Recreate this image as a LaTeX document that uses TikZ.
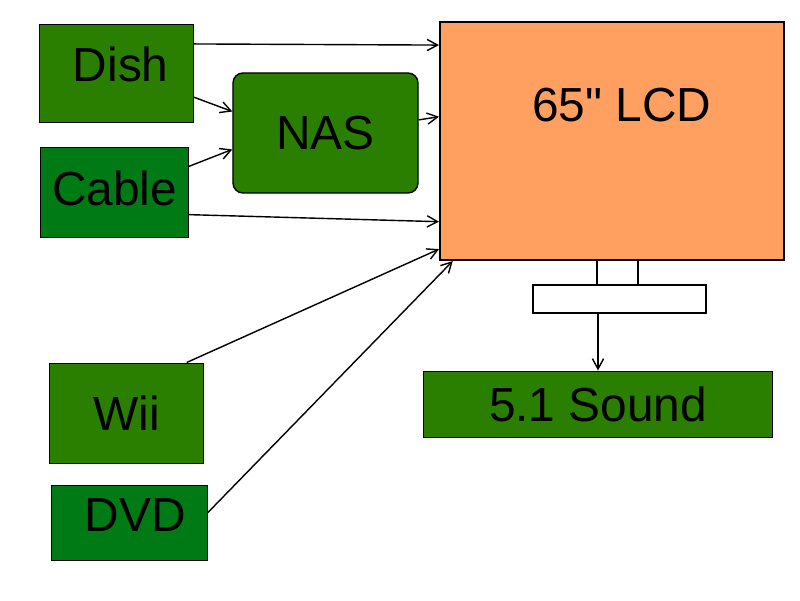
\documentclass[tikz,border=0pt]{standalone}
\usepackage{fontspec}
\setmainfont{Liberation Sans}[Ligatures=TeXOff]
\usepackage{xcolor}
\usepackage{tikz}
\usetikzlibrary{arrows.meta, positioning}
\definecolor{box-green}{RGB}{42,127,0}
\definecolor{box-green2}{RGB}{0,122,20}
\definecolor{tv-orange}{RGB}{255,160,96}
\tikzstyle{source} = [rectangle, draw=black, line width=0.7pt, fill=box-green,
    inner sep=0pt, font=\fontsize{34}{36}\selectfont]
\tikzstyle{screen} = [rectangle, draw=black, line width=1.4pt, fill=tv-orange,
    inner sep=0pt, font=\fontsize{34}{36}\selectfont]
\tikzstyle{stand}  = [rectangle, draw=black, line width=1.2pt, fill=white, inner sep=0pt]
\tikzstyle{arrow}  = [line width=1pt, -{Straight Barb[length=2.6mm, width=2.8mm]}]

\begin{document}
\begin{tikzpicture}[x=0.025cm, y=-0.025cm]

    \useasboundingbox (0,0) rectangle (800,600);

    % ===============================
    % 1. NODES
    % ===============================

    % Sources (left)
    \node[source, minimum width=3.825cm, minimum height=2.425cm, text depth=13pt] (dish) at (116.5, 73.5) {\hspace*{6pt}Dish};
    \node[source, fill=box-green2, minimum width=3.675cm, minimum height=2.25cm, text depth=6pt] (cable) at (114.5, 192) {Cable};
    \node[source, minimum width=3.825cm, minimum height=2.5cm] (wii) at (126.5, 413) {Wii};
    \node[source, fill=box-green2, minimum width=3.875cm, minimum height=1.875cm, text depth=11pt] (dvd) at (129.5, 522.5) {\hspace*{8pt}DVD};

    % NAS
    \node[source, rounded corners=0.25cm, line width=1pt, minimum width=4.625cm, minimum height=3cm] (nas) at (325.5, 133) {NAS};

    % -------------------------------
    % TV and stand
    % -------------------------------
    \node[screen, minimum width=8.6cm, minimum height=5.95cm, text depth=51pt] (lcd) at (612, 141) {\hspace*{14pt}65" LCD};
    \node[stand, minimum width=1.025cm, minimum height=0.65cm] (neck) at (617.5, 273) {};
    \node[stand, minimum width=4.325cm, minimum height=0.7cm] (base) at (619.5, 299) {};

    % Sound
    \node[source, minimum width=8.7cm, minimum height=1.65cm] (sound) at (598, 404) {5.1 Sound};

    % ===============================
    % 2. CONNECTIONS
    % ===============================

    % Dish and Cable
    \draw[arrow] (dish.21) -- (lcd.151.9);
    \draw[arrow] (dish.-17.1) -- (nas.167.2);
    \draw[arrow] (cable.19.5) -- (nas.-170.8);
    \draw[arrow] (cable.-17.4) -- (lcd.-155.9);

    % NAS to TV
    \draw[arrow] (nas.8) -- (lcd.172.7);

    % Wii and DVD
    \draw[arrow] (wii.40) -- (lcd.-148.1);
    \draw[arrow] (dvd.7) -- (lcd.-143.2);

    % Stand to Sound
    \draw[arrow] (base.south -| sound.north) -- (sound.north);

\end{tikzpicture}
\end{document}
